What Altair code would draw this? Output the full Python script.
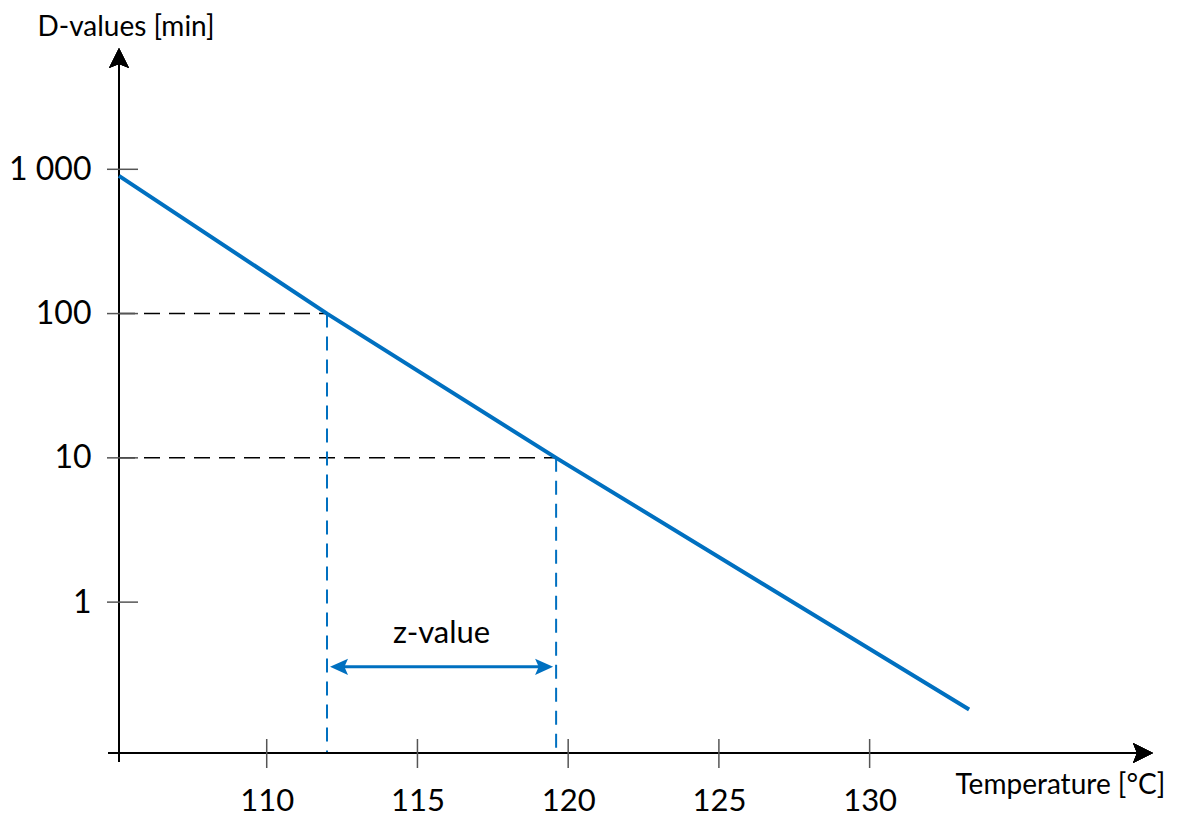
import altair as alt
import pandas as pd

# ---------------- data ----------------
x_ticks = [110, 115, 120, 125, 130]          # Temperature [°C]
y_ticks = [1, 10, 100, 1000]                 # D-values [min]
x_domain = [105.1, 139.4]
y_domain = [0.09, 6930]

# D-value line
line_T = [105.1, 112.0, 119.6, 133.3]
line_D = [900, 100, 10, 0.18]

# guide points (D = 100 and D = 10)
ref_T = [112.0, 119.6]
ref_D = [100, 10]

# z-value annotation
z_T = [112.1, 119.5]
z_D = 0.356
z_label_D = 0.60
z_label = "z-value"

x_title = "Temperature [°C]"
y_title = "D-values [min]"

BLUE = "#0070C0"
FONT = "Lato"
W, H = 1034, 705

# ---------------- tables ----------------
line_df = pd.DataFrame({"T": line_T, "D": line_D})
ref_df = pd.DataFrame({"T": ref_T, "D": ref_D, "T0": [x_domain[0]] * 2, "D0": [y_domain[0]] * 2})
xt_df = pd.DataFrame({"T": x_ticks})
yt_df = pd.DataFrame({"D": y_ticks})
z_df = pd.DataFrame({"T": [z_T[0]], "T2": [z_T[1]], "D": [z_D]})
zhead_df = pd.DataFrame({
    "T": z_T,
    "D": [z_D, z_D],
    "shape": ["M0,0 L2,-0.9 L1.6,0 L2,0.9 Z", "M0,0 L-2,-0.9 L-1.6,0 L-2,0.9 Z"],
})
zlab_df = pd.DataFrame({"T": [(z_T[0] + z_T[1]) / 2], "D": [z_label_D], "txt": [z_label]})

xs = alt.Scale(domain=x_domain, nice=False, zero=False)
ys = alt.Scale(type="log", domain=y_domain, nice=False)

label_expr = "datum.value >= 1000 ? '1 000' : format(datum.value, 'd')"

XA = alt.Axis(
    values=x_ticks, ticks=False, domain=False, grid=False,
    labelFontSize=31, labelFont=FONT, labelColor="black", labelPadding=33,
    labelFlush=False, labelOverlap=False,
    title=x_title, titleFont=FONT, titleFontSize=28, titleFontWeight="normal",
    titleColor="black", titleAlign="left", titleBaseline="middle",
    titleX=836, titleY=32)
YA = alt.Axis(
    values=y_ticks, ticks=False, domain=False, grid=False,
    labelFontSize=32, labelFont=FONT, labelColor="black", labelPadding=28,
    labelExpr=label_expr, labelOverlap=False, labelFlush=False,
    title=y_title, titleFont=FONT, titleFontSize=28, titleFontWeight="normal",
    titleColor="black", titleAngle=0, titleAlign="left", titleBaseline="middle",
    titleX=-82, titleY=-21)


def X(f):
    return alt.X(f, scale=xs, axis=XA)


def Y(f):
    return alt.Y(f, scale=ys, axis=YA)


line = alt.Chart(line_df).mark_line(color=BLUE, strokeWidth=4).encode(
    x=X("T:Q"), y=Y("D:Q"),
)

hdash = alt.Chart(ref_df).mark_rule(color="black", strokeWidth=1.5, strokeDash=[16, 9]).encode(
    x=X("T0:Q"), x2="T:Q", y=Y("D:Q"),
)
vdash = alt.Chart(ref_df).mark_rule(color=BLUE, strokeWidth=2, strokeDash=[14, 9]).encode(
    x=X("T:Q"), y=Y("D:Q"), y2="D0:Q",
)

xticks = alt.Chart(xt_df).mark_rule(color="#555555", strokeWidth=1.5).encode(
    x=X("T:Q"), y=alt.value(H - 14), y2=alt.value(H + 15),
)
yticks = alt.Chart(yt_df).mark_rule(color="#555555", strokeWidth=1.5).encode(
    y=Y("D:Q"), x=alt.value(-12), x2=alt.value(19),
)

xaxis = alt.Chart(xt_df).mark_rule(color="black", strokeWidth=2).encode(
    x=alt.value(-11), x2=alt.value(W - 6), y=alt.value(H),
)
yaxis = alt.Chart(yt_df).mark_rule(color="black", strokeWidth=2).encode(
    x=alt.value(0), y=alt.value(H + 9), y2=alt.value(6),
)
xarrow = alt.Chart(xt_df).mark_point(
    shape="M0,0 L-2,-1 L-1.6,0 L-2,1 Z", filled=True, color="black", opacity=1, size=400, strokeWidth=0
).encode(x=alt.value(W), y=alt.value(H))
yarrow = alt.Chart(yt_df).mark_point(
    shape="M0,0 L-1,2 L0,1.6 L1,2 Z", filled=True, color="black", opacity=1, size=400, strokeWidth=0
).encode(x=alt.value(0), y=alt.value(0))

zrule = alt.Chart(z_df).mark_rule(color=BLUE, strokeWidth=3, xOffset=6, x2Offset=-6).encode(
    x=X("T:Q"), x2="T2:Q", y=Y("D:Q"),
)
zheads = alt.Chart(zhead_df).mark_point(filled=True, color=BLUE, opacity=1, size=324, strokeWidth=0).encode(
    x=X("T:Q"), y=Y("D:Q"),
    shape=alt.Shape("shape:N", scale=None, legend=None),
)
ztext = alt.Chart(zlab_df).mark_text(font=FONT, fontSize=31, color="black", baseline="middle").encode(
    x=X("T:Q"), y=Y("D:Q"), text="txt:N",
)

chart = alt.layer(
    hdash, vdash, xaxis, yaxis, xticks, yticks, xarrow, yarrow, line, zrule, zheads, ztext
).properties(
    width=W, height=H,
    autosize=alt.AutoSizeParams(type="none"),
    padding={"left": 111, "top": 40, "right": 20, "bottom": 66},
).configure_view(stroke=None)

chart.save("out.html", embed_options={"renderer": "svg", "actions": False})
